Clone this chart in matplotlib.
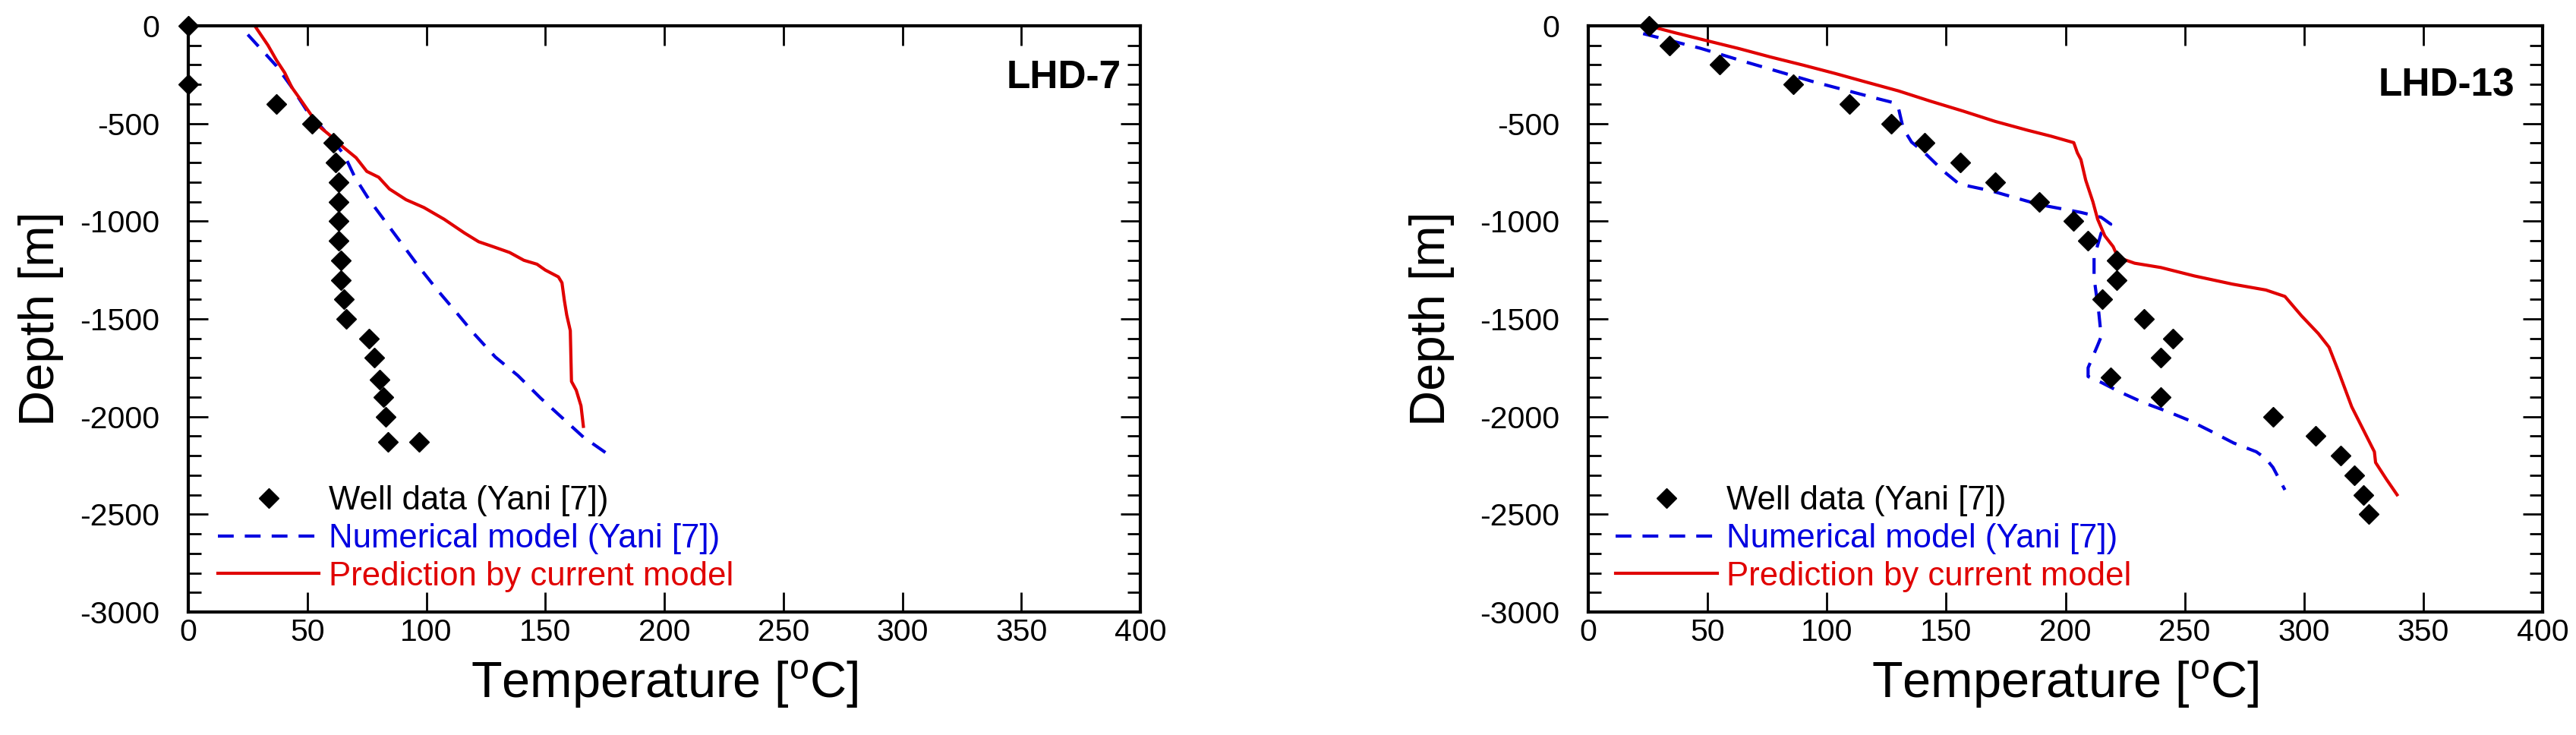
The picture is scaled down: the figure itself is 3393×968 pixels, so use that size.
import matplotlib
matplotlib.use("Agg")
import matplotlib.pyplot as plt
from matplotlib.ticker import MultipleLocator

plt.rcParams["font.family"] = ["Liberation Sans", "DejaVu Sans"]
plt.rcParams["axes.unicode_minus"] = False
plt.rcParams["mathtext.default"] = "regular"

# ---- LHD-7 ----
lhd7_well_T = [0, 0, 37, 52, 61, 62, 63, 63, 63, 63, 64, 64, 65.5, 66.5,
               76, 78, 80.5, 82, 83, 84, 97]
lhd7_well_D = [0, -300, -400, -500, -600, -700, -800, -900, -1000, -1100,
               -1200, -1300, -1400, -1500, -1600, -1700, -1810, -1900,
               -2000, -2130, -2130]

lhd7_num_T = [25, 37, 43.5, 50, 59, 65.5, 70, 76, 83, 90, 97, 104.5, 112.5,
              120, 129, 138.5, 148, 157, 166, 176]
lhd7_num_D = [-45, -205, -315, -438, -560, -660, -775, -890, -1005, -1120,
              -1235, -1350, -1465, -1575, -1695, -1790, -1905, -2005, -2105,
              -2190]

lhd7_pred_T = [28.5, 33.5, 37, 40.5, 43.5, 47, 51, 55, 59, 65, 70.5, 75, 80,
               84.5, 91.5, 99, 107.5, 116, 122, 128, 135, 141, 146.5, 150,
               155.5, 157, 158, 159, 160.5, 161, 163, 165, 166]
lhd7_pred_D = [-10, -100, -175, -240, -315, -375, -445, -515, -555, -620,
               -675, -745, -775, -835, -890, -930, -990, -1060, -1105, -1130,
               -1160, -1200, -1220, -1250, -1285, -1315, -1405, -1480, -1560,
               -1820, -1865, -1945, -2050]

# ---- LHD-13 ----
lhd13_well_T = [25.5, 34, 55, 86, 109.5, 127, 141, 156, 170.5, 189, 203.5,
                209.5, 221.5, 221.5, 215.5, 233, 245, 240, 219, 240, 287, 305,
                315.5, 321, 325, 327]
lhd13_well_D = [0, -100, -200, -300, -400, -500, -600, -700, -800, -900,
                -1000, -1100, -1200, -1300, -1400, -1500, -1600, -1700,
                -1800, -1900, -2000, -2100, -2200, -2300, -2400, -2500]

lhd13_num_T = [23, 47, 66, 94, 122, 128.5, 130, 132, 135.5, 141, 149, 155.5,
               169, 189, 206.5, 215, 219, 215, 212, 212, 214, 215, 213.5,
               209.5, 209.5, 215, 223, 233, 243, 252, 261, 270.5, 280, 284,
               287, 292]
lhd13_num_D = [-40, -115, -185, -285, -375, -395, -420, -525, -595, -650,
               -745, -810, -845, -915, -955, -980, -1015, -1060, -1185, -1290,
               -1470, -1590, -1635, -1750, -1795, -1825, -1875, -1930, -1975,
               -2020, -2075, -2135, -2180, -2215, -2260, -2375]

lhd13_pred_T = [29, 36.5, 50, 63, 76.5, 90, 103.5, 116.5, 130, 143.5, 157,
                170.5, 184, 194, 203.5, 205, 206.5, 208.5, 211.5, 213.5,
                216.5, 220, 222, 229, 240, 254, 270, 284, 292, 299, 306,
                310.5, 314.5, 320, 329.5, 330, 334.5, 339]
lhd13_pred_D = [-12, -36, -77, -116, -160, -201, -244, -288, -333, -386,
                -436, -489, -534, -565, -598, -650, -685, -790, -900, -990,
                -1075, -1130, -1185, -1215, -1237, -1280, -1322, -1352, -1385,
                -1485, -1575, -1645, -1770, -1950, -2180, -2235, -2320, -2400]

labels = ["Well data (Yani [7])", "Numerical model (Yani [7])",
          "Prediction by current model"]
BLUE = "#0000e0"
RED = "#e00000"


def draw_well(ax, name, wT, wD, nT, nD, pT, pD, name_xy, leg_x):
    ax.plot(wT, wD, ls="none", marker="D", ms=13, color="k", mec="k",
            clip_on=False, zorder=4, label=labels[0])
    ax.plot(nT, nD, color=BLUE, lw=3, dashes=(5, 3.5), label=labels[1])
    ax.plot(pT, pD, color=RED, lw=3, label=labels[2])

    ax.set_xlim(0, 400)
    ax.set_ylim(-3000, 0)
    ax.xaxis.set_major_locator(MultipleLocator(50))
    ax.yaxis.set_major_locator(MultipleLocator(500))
    ax.yaxis.set_minor_locator(MultipleLocator(100))
    ax.tick_params(which="both", direction="in", top=True, right=True,
                   width=2)
    ax.tick_params(which="major", length=19)
    ax.tick_params(which="minor", length=12)
    ax.tick_params(axis="y", which="major", pad=27, labelsize=29.5)
    ax.tick_params(axis="x", which="major", pad=6, labelsize=29.5)
    for s in ax.spines.values():
        s.set_linewidth(3)

    ax.set_xlabel(r"Temperature [$^o$C]", fontsize=48)
    ax.set_ylabel("Depth [m]", fontsize=47)
    ax.xaxis.set_label_coords(0.5, -0.079)

    ax.text(name_xy[0], name_xy[1], name, transform=ax.transAxes,
            ha="right", va="baseline", fontsize=37, fontweight="bold")

    ax.legend(loc="upper left", bbox_to_anchor=(leg_x, 0.216),
              frameon=False, fontsize=31.5, numpoints=1, handlelength=3.05,
              handletextpad=0.28, labelspacing=0.2, borderpad=0,
              borderaxespad=0, labelcolor="linecolor")


fig = plt.figure(figsize=(33.93, 9.68), dpi=100)
ax1 = fig.add_axes([248 / 3393, 162 / 968, 1254 / 3393, 772 / 968])
ax2 = fig.add_axes([2092 / 3393, 162 / 968, 1257 / 3393, 772 / 968])

draw_well(ax1, "LHD-7", lhd7_well_T, lhd7_well_D, lhd7_num_T, lhd7_num_D,
          lhd7_pred_T, lhd7_pred_D, (0.980, 0.894), 0.031)
draw_well(ax2, "LHD-13", lhd13_well_T, lhd13_well_D, lhd13_num_T,
          lhd13_num_D, lhd13_pred_T, lhd13_pred_D, (0.971, 0.880), 0.029)

ax1.yaxis.set_label_coords(-0.131, 0.5)
ax2.yaxis.set_label_coords(-0.140, 0.5)

fig.savefig("out.png", dpi=100)
